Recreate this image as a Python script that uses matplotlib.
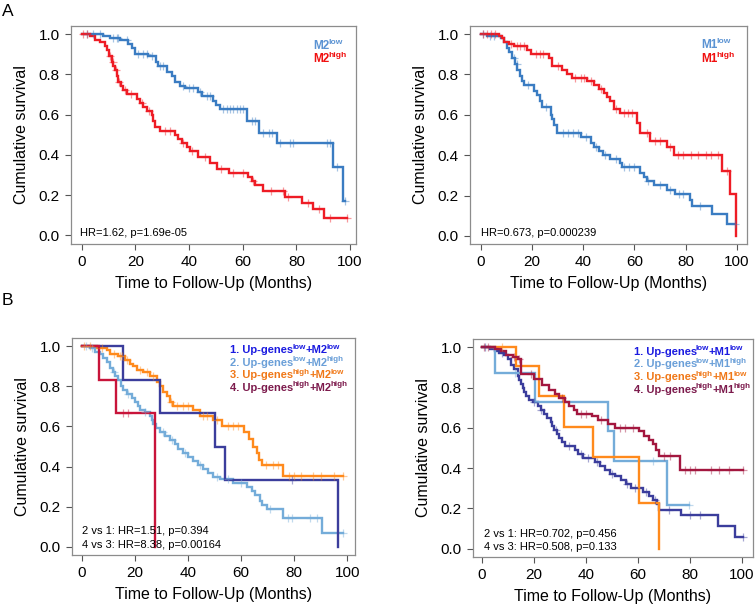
import numpy as np
import matplotlib
matplotlib.use("Agg")
import matplotlib.pyplot as plt

plt.rcParams["font.family"] = ["Liberation Sans", "DejaVu Sans"]

# ---- panel A left: M2 low / high ----
A1_LOW_T = [8.1, 10.6, 14.3, 17.4, 18.6, 19.9, 24.8, 27.7, 28.6, 31.7, 33.5, 34.8, 36.6, 38.5,
            43.5, 44.7, 49.1, 50.1, 51.6, 61.7, 66.2, 72.7, 93.8, 97.3]
A1_LOW_S = [0.99, 0.98, 0.97, 0.95, 0.93, 0.90, 0.89, 0.86, 0.84, 0.81, 0.79, 0.76, 0.74, 0.73,
            0.71, 0.69, 0.67, 0.65, 0.63, 0.57, 0.51, 0.46, 0.34, 0.17]
A1_LOW_END = 98.1
A1_LOW_CENS = [1.9, 4.3, 6.8, 11.8, 13.0, 13.7, 16.8, 21.1, 23.0, 24.2, 26.1, 29.2, 30.4, 37.6,
               39.8, 41.6, 44.1, 46.6, 47.8, 52.8, 54.0, 55.3, 56.5, 57.8, 59.0, 60.2, 63.4, 64.6,
               67.7, 69.6, 70.8, 73.9, 77.6, 78.9, 91.3, 92.5, 95.0, 98.1]

A1_HIGH_T = [3.1, 5.0, 6.8, 8.7, 9.3, 10.3, 11.2, 11.8, 12.4, 13.0, 13.7, 14.5, 15.5, 16.8, 20.5,
             21.7, 23.0, 24.2, 26.1, 26.7, 27.3, 29.2, 34.8, 36.0, 37.3, 39.1, 40.4, 43.5, 47.8,
             50.3, 54.7, 62.1, 63.4, 64.6, 67.7, 75.8, 82.0, 86.3, 90.1]
A1_HIGH_S = [0.99, 0.97, 0.96, 0.94, 0.92, 0.89, 0.86, 0.84, 0.82, 0.79, 0.76, 0.74, 0.72, 0.70,
             0.68, 0.66, 0.64, 0.62, 0.60, 0.57, 0.54, 0.52, 0.50, 0.48, 0.46, 0.44, 0.42, 0.39,
             0.36, 0.33, 0.31, 0.29, 0.27, 0.25, 0.22, 0.19, 0.16, 0.13, 0.086]
A1_HIGH_END = 98.8
A1_HIGH_CENS = [0.6, 1.9, 10.6, 11.6, 12.8, 14.0, 16.1, 18.3, 22.4, 25.0, 31.1, 33.0, 37.9, 41.0,
                46.0, 52.0, 56.5, 60.0, 63.8, 70.5, 75.0, 77.0, 84.5, 88.5, 92.5, 98.8]

# ---- panel A right: M1 low / high ----
A2_LOW_T = [2.6, 7.8, 9.1, 10.1, 11.0, 12.3, 13.2, 14.3, 15.3, 16.2, 17.1, 21.0, 22.0, 23.1, 24.0,
            27.3, 27.9, 28.6, 29.9, 39.0, 42.9, 44.2, 46.1, 47.8, 50.6, 54.3, 55.2, 62.3, 63.6,
            64.9, 67.5, 72.7, 76.0, 81.8, 82.5, 90.3, 96.1]
A2_LOW_S = [0.99, 0.98, 0.96, 0.93, 0.91, 0.88, 0.85, 0.82, 0.79, 0.77, 0.75, 0.72, 0.70, 0.67,
            0.64, 0.60, 0.58, 0.55, 0.51, 0.49, 0.46, 0.44, 0.42, 0.40, 0.38, 0.36, 0.34, 0.31,
            0.29, 0.27, 0.25, 0.23, 0.21, 0.18, 0.15, 0.11, 0.058]
A2_LOW_END = 99.4
A2_LOW_CENS = [1.0, 3.5, 5.0, 13.0, 14.0, 18.5, 25.5, 32.0, 34.0, 36.0, 38.0, 41.0, 45.0, 48.5,
               53.0, 56.0, 58.0, 60.0, 65.5, 70.0, 74.0, 77.5, 79.0, 85.5, 99.4]

A2_HIGH_T = [7.1, 8.4, 9.1, 11.0, 13.0, 18.2, 19.5, 26.6, 27.9, 31.8, 33.8, 35.7, 41.6, 44.2, 46.1,
             48.0, 49.4, 50.6, 51.9, 54.5, 61.0, 62.3, 66.2, 72.7, 75.3, 94.2, 97.4, 99.7]
A2_HIGH_S = [0.99, 0.98, 0.96, 0.95, 0.94, 0.92, 0.90, 0.88, 0.84, 0.82, 0.80, 0.78, 0.77, 0.75,
             0.73, 0.71, 0.69, 0.67, 0.63, 0.61, 0.56, 0.51, 0.47, 0.44, 0.40, 0.32, 0.21, 0.0]
A2_HIGH_END = 99.7
A2_HIGH_CENS = [1.0, 2.5, 4.0, 5.5, 12.0, 14.0, 15.5, 17.0, 21.5, 23.0, 24.5, 30.0, 37.0, 39.0,
                40.5, 43.0, 47.0, 53.0, 56.0, 57.5, 59.0, 65.0, 68.0, 70.0, 74.0, 77.0, 79.0,
                82.0, 85.0, 88.0, 90.0, 92.5, 96.0]

# ---- panel B left: up-genes x M2 ----
B1_G1_T = [15.7, 29.6, 50.2, 54.0, 96.6]
B1_G1_S = [0.833, 0.667, 0.5, 0.333, 0.0]
B1_G1_END = 96.6
B1_G1_CENS = [79.0]

B1_G2_T = [3.1, 5.0, 6.9, 8.2, 9.4, 10.7, 11.7, 12.5, 13.8, 14.7, 15.7, 16.9, 18.8, 20.1, 21.3,
           22.0, 23.8, 25.7, 26.3, 27.0, 28.0, 29.5, 31.4, 33.2, 35.1, 36.4, 38.3, 40.2, 42.0,
           43.9, 45.8, 47.7, 49.6, 52.1, 57.1, 62.1, 64.0, 65.2, 67.1, 67.8, 69.6, 75.7, 90.3]
B1_G2_S = [0.99, 0.97, 0.96, 0.94, 0.92, 0.89, 0.87, 0.85, 0.83, 0.80, 0.78, 0.76, 0.74, 0.72,
           0.70, 0.68, 0.67, 0.65, 0.63, 0.61, 0.59, 0.57, 0.55, 0.53, 0.51, 0.49, 0.47, 0.45,
           0.43, 0.41, 0.39, 0.37, 0.35, 0.34, 0.32, 0.30, 0.28, 0.26, 0.23, 0.21, 0.19, 0.145,
           0.07]
B1_G2_END = 98.5
B1_G2_CENS = [1.5, 4.0, 12.0, 17.5, 24.0, 30.5, 34.0, 39.0, 44.5, 51.0, 55.0, 60.0, 71.0, 77.5,
              79.0, 86.0, 88.5, 98.5]

B1_G3_T = [5.6, 9.4, 10.7, 13.8, 16.3, 18.2, 19.4, 20.7, 23.2, 25.7, 28.2, 29.5, 30.7, 32.0, 33.2,
           34.5, 42.0, 44.5, 49.6, 52.7, 61.0, 63.1, 64.6, 65.9, 66.9, 67.8, 75.9]
B1_G3_S = [0.99, 0.98, 0.96, 0.95, 0.93, 0.91, 0.90, 0.88, 0.87, 0.85, 0.82, 0.80, 0.77, 0.75,
           0.72, 0.70, 0.68, 0.65, 0.63, 0.60, 0.57, 0.535, 0.50, 0.47, 0.435, 0.41, 0.352]
B1_G3_END = 98.5
B1_G3_CENS = [1.0, 3.0, 7.5, 12.0, 14.5, 15.0, 17.0, 22.0, 24.5, 27.0, 33.8, 36.0, 38.0, 40.0,
              45.5, 47.0, 51.0, 55.0, 57.0, 59.0, 69.5, 72.0, 74.0, 78.0, 80.0, 82.5, 87.0, 90.0,
              95.0, 98.5]

B1_G4_T = [6.65, 12.9, 27.6]
B1_G4_S = [0.833, 0.667, 0.0]
B1_G4_END = 27.6
B1_G4_CENS = [15.7, 17.6]

# ---- panel B right: up-genes x M1 ----
B2_G1_T = [3.2, 5.1, 6.9, 8.8, 10.1, 11.4, 12.6, 13.9, 14.5, 15.2, 15.8, 16.4, 17.0, 18.3, 19.6,
           21.5, 22.7, 24.0, 25.3, 26.5, 27.1, 27.8, 29.0, 29.7, 30.9, 32.2, 36.0, 37.2, 39.1,
           43.6, 45.5, 47.3, 49.2, 51.1, 53.7, 55.6, 57.4, 61.9, 64.4, 65.7, 67.3, 68.2, 76.4,
           90.9, 97.2]
B2_G1_S = [0.99, 0.98, 0.97, 0.96, 0.94, 0.91, 0.89, 0.86, 0.84, 0.82, 0.80, 0.78, 0.76, 0.74,
           0.73, 0.71, 0.69, 0.67, 0.65, 0.63, 0.61, 0.59, 0.57, 0.55, 0.53, 0.51, 0.49, 0.47,
           0.45, 0.43, 0.41, 0.39, 0.37, 0.36, 0.34, 0.32, 0.30, 0.28, 0.26, 0.24, 0.22, 0.194,
           0.167, 0.113, 0.057]
B2_G1_END = 100.5
B2_G1_CENS = [1.5, 8.0, 20.0, 23.0, 28.5, 33.5, 38.0, 41.0, 44.5, 50.0, 56.0, 59.0, 63.0, 66.5,
              72.0, 80.0, 84.0, 100.5]

B2_G2_T = [5.1, 20.6, 48.4, 50.9, 71.1]
B2_G2_S = [0.875, 0.729, 0.583, 0.437, 0.219]
B2_G2_END = 79.5
B2_G2_CENS = [13.0, 66.0, 79.5]

B2_G3_T = [13.3, 22.1, 31.6, 42.9, 60.6, 68.2]
B2_G3_S = [0.909, 0.758, 0.606, 0.455, 0.227, 0.0]
B2_G3_END = 68.2
B2_G3_CENS = [8.0]

B2_G4_T = [5.1, 7.6, 9.5, 12.0, 13.9, 15.2, 20.2, 23.4, 25.9, 28.4, 29.7, 32.2, 33.5, 35.4, 36.6,
           42.3, 44.8, 48.6, 51.1, 60.6, 62.5, 64.4, 65.7, 66.9, 68.2, 76.1]
B2_G4_S = [0.99, 0.98, 0.96, 0.95, 0.94, 0.87, 0.845, 0.815, 0.79, 0.77, 0.75, 0.73, 0.71, 0.69,
           0.67, 0.66, 0.64, 0.62, 0.60, 0.585, 0.56, 0.54, 0.52, 0.49, 0.46, 0.39]
B2_G4_END = 100.5
B2_G4_CENS = [1.0, 2.5, 12.5, 14.5, 19.0, 31.0, 38.0, 40.0, 46.0, 53.0, 55.0, 58.0, 70.0, 72.5,
              78.0, 80.0, 82.0, 88.0, 91.0, 95.0, 100.5]

XTICKS = [0, 20, 40, 60, 80, 100]
YTICKS = [0.0, 0.2, 0.4, 0.6, 0.8, 1.0]

BLUE = "#3a7cc2"
RED = "#ee1c25"
NAVY = "#3b3d9c"
LBLUE = "#74acd9"
ORANGE = "#ff8a1c"
CRIMSON = "#c8143a"
MAROON = "#a3173f"

W, H = 755, 608


def box(x0, y0, x1, y1):
    return [x0 / W, 1 - y1 / H, (x1 - x0) / W, (y1 - y0) / H]


def km(ax, times, surv, end, cens, color):
    t = np.r_[0, times, end]
    s = np.r_[1, surv, surv[-1]]
    ax.step(t, s, where="post", color=color, lw=1.7, solid_joinstyle="miter")
    idx = np.searchsorted(times, cens, side="right")
    cs = np.r_[1, surv][idx]
    ax.plot(cens, cs, "+", color=color, alpha=0.45, ms=5.5, mew=0.9, zorder=3)


def setup(ax, xlim):
    ax.set_xlim(*xlim)
    ax.set_ylim(-0.04, 1.04)
    ax.set_xticks(XTICKS)
    ax.set_yticks(YTICKS)
    ax.set_yticklabels([f"{v:.1f}" for v in YTICKS])
    for sp in ax.spines.values():
        sp.set_color("#8c8c8c")
        sp.set_linewidth(0.9)
    ax.tick_params(direction="out", length=4, width=0.8, color="#555555",
                   labelsize=11, pad=4)
    ax.set_xlabel("Time to Follow-Up (Months)", fontsize=11.5, labelpad=5)
    ax.set_ylabel("Cumulative survival", fontsize=11.5, labelpad=7)


def rich(ax, x, y, parts, color, size):
    # parts: list of (text, is_superscript), drawn one after the other
    prev = None
    for txt, sup in parts:
        fs = size * 0.72 if sup else size
        dy = size * 0.42 if sup else 0
        if prev is None:
            prev = ax.annotate(txt, xy=(x, y), xycoords="axes fraction",
                               xytext=(0, dy), textcoords="offset points",
                               color=color, fontsize=fs, fontweight="bold", va="baseline")
        else:
            prev = ax.annotate(txt, xy=(1, y), xycoords=(prev, "axes fraction"),
                               xytext=(-0.8 if sup else -0.3, dy), textcoords="offset points",
                               color=color, fontsize=fs, fontweight="bold", va="baseline")


def group_label(num, g1, g2, mk):
    return [(f"{num}. Up-genes", False), (g1, True), (f"+{mk}", False), (g2, True)]


fig = plt.figure(figsize=(W / 100, H / 100), dpi=100)

# A left
ax = fig.add_axes(box(71, 26, 356, 243.5))
setup(ax, (-3.99, 102.2))
km(ax, A1_LOW_T, A1_LOW_S, A1_LOW_END, A1_LOW_CENS, BLUE)
km(ax, A1_HIGH_T, A1_HIGH_S, A1_HIGH_END, A1_HIGH_CENS, RED)
rich(ax, 0.849, 0.895, [("M2", False), ("low", True)], "#5b93d3", 8.5)
rich(ax, 0.849, 0.835, [("M2", False), ("high", True)], "#f01010", 8.5)
ax.text(0.03, 0.035, "HR=1.62, p=1.69e-05", transform=ax.transAxes, fontsize=8)

# A right
ax = fig.add_axes(box(470, 26, 747, 244))
setup(ax, (-4.18, 104.0))
km(ax, A2_LOW_T, A2_LOW_S, A2_LOW_END, A2_LOW_CENS, BLUE)
km(ax, A2_HIGH_T, A2_HIGH_S, A2_HIGH_END, A2_HIGH_CENS, RED)
rich(ax, 0.836, 0.9, [("M1", False), ("low", True)], "#5b93d3", 8.5)
rich(ax, 0.836, 0.835, [("M1", False), ("high", True)], "#f01010", 8.5)
ax.text(0.04, 0.035, "HR=0.673, p=0.000239", transform=ax.transAxes, fontsize=8)

LEG_COLORS = ["#1a1ae0", "#6a9fd8", "#f07818", "#7c1a4c"]
LEG_SUPS = [("low", "low"), ("low", "high"), ("high", "low"), ("high", "high")]

# B left
ax = fig.add_axes(box(72, 338, 355, 555))
setup(ax, (-3.65, 102.9))
km(ax, B1_G2_T, B1_G2_S, B1_G2_END, B1_G2_CENS, LBLUE)
km(ax, B1_G3_T, B1_G3_S, B1_G3_END, B1_G3_CENS, ORANGE)
km(ax, B1_G1_T, B1_G1_S, B1_G1_END, B1_G1_CENS, NAVY)
km(ax, B1_G4_T, B1_G4_S, B1_G4_END, B1_G4_CENS, CRIMSON)
for i, ((s1, s2), col) in enumerate(zip(LEG_SUPS, LEG_COLORS)):
    rich(ax, 0.56, 0.93 - i * 0.058, group_label(i + 1, s1, s2, "M2"), col, 8)
ax.text(0.035, 0.095, "2 vs 1: HR=1.51, p=0.394", transform=ax.transAxes, fontsize=8)
ax.text(0.035, 0.03, "4 vs 3: HR=8.38, p=0.00164", transform=ax.transAxes, fontsize=8)

# B right
ax = fig.add_axes(box(472.7, 339.3, 752.7, 556.7))
setup(ax, (-3.38, 104.1))
km(ax, B2_G1_T, B2_G1_S, B2_G1_END, B2_G1_CENS, NAVY)
km(ax, B2_G2_T, B2_G2_S, B2_G2_END, B2_G2_CENS, LBLUE)
km(ax, B2_G3_T, B2_G3_S, B2_G3_END, B2_G3_CENS, ORANGE)
km(ax, B2_G4_T, B2_G4_S, B2_G4_END, B2_G4_CENS, MAROON)
for i, ((s1, s2), col) in enumerate(zip(LEG_SUPS, LEG_COLORS)):
    rich(ax, 0.575, 0.93 - i * 0.059, group_label(i + 1, s1, s2, "M1"), col, 8)
ax.text(0.04, 0.09, "2 vs 1: HR=0.702, p=0.456", transform=ax.transAxes, fontsize=8)
ax.text(0.04, 0.03, "4 vs 3: HR=0.508, p=0.133", transform=ax.transAxes, fontsize=8)

fig.text(2 / W, 1 - 16 / H, "A", fontsize=12.5)
fig.text(2 / W, 1 - 305 / H, "B", fontsize=12.5)

fig.savefig("out.png", dpi=100, facecolor="white")
